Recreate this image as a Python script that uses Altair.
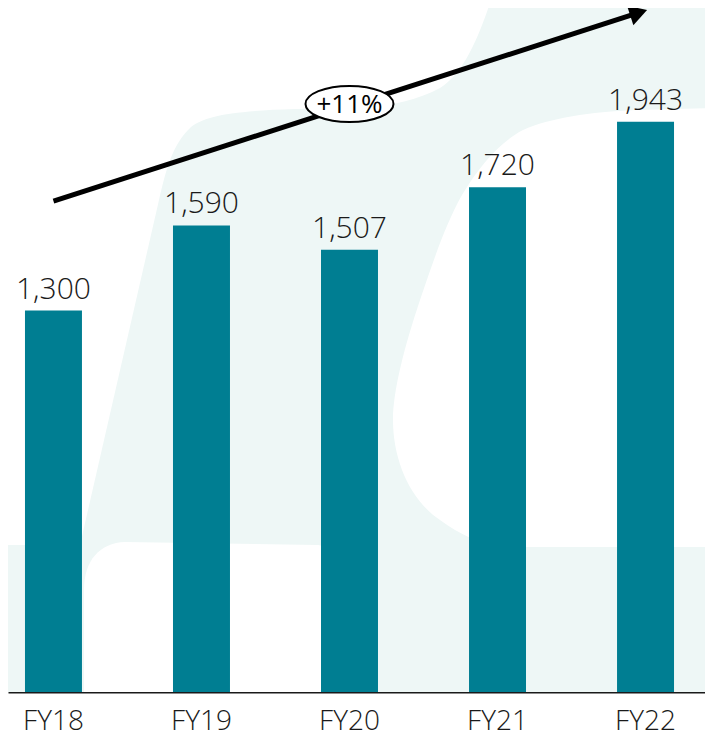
import altair as alt
import pandas as pd

years = ["FY18", "FY19", "FY20", "FY21", "FY22"]
values = [1300, 1590, 1507, 1720, 1943]
value_labels = ["1,300", "1,590", "1,507", "1,720", "1,943"]

# trend arrow annotation (category, value)
arrow_start = ["FY18", 1673]
arrow_end = ["FY22", 2321]
cagr_label = "+11%"
cagr_pos = ["FY20", 2004]

FONT = "Open Sans"
TEAL = "#007E92"
MINT = "#EEF7F6"

# decorative watermark shapes (page pixel paths, drawn from page origin)
BG_MINT = ("M0,545 L80,545 L159,200 C166,170 172,145 191,127 C205,116 230,111 295,109 "
           "L364,108 C390,106 420,99 440,88 C462,74 476,45 491,0 L720,0 L720,692 L0,692 Z")
BG_HOLE_R = ("M720,108 L636,110 C590,112 550,118 523,130 C500,142 480,165 462,195 "
             "C445,225 432,265 420,300 C405,345 393,390 393,420 C393,460 410,500 440,520 "
             "C460,535 480,543 500,547 L720,547 Z")
BG_HOLE_B = ("M84,692 L84,590 C84,560 100,543 125,542 L318,545 C325,546 330,550 330,560 "
             "L330,692 Z")

bars_df = pd.DataFrame({"year": years, "value": values, "label": value_labels})
arrow_df = pd.DataFrame({"x": [arrow_start[0]], "y": [arrow_start[1]],
                         "x2": [arrow_end[0]], "y2": [arrow_end[1]]})
head_df = pd.DataFrame({"x": [arrow_end[0]], "y": [arrow_end[1]]})
cagr_df = pd.DataFrame({"x": [cagr_pos[0]], "y": [cagr_pos[1]], "t": [cagr_label]})
one = pd.DataFrame({"k": [0]})

W, H = 697, 684
xs = alt.Scale(domain=years, paddingInner=0.615, paddingOuter=0.162, align=0.354)
ys = alt.Scale(domain=[0, 2331], nice=False, zero=True)


def bg(path, color):
    return alt.Chart(one).mark_point(shape=path, filled=True, fill=color, stroke=None,
                                     strokeWidth=0, opacity=1, size=4).encode(
        x=alt.value(-8), y=alt.value(-8))


base = alt.Chart(bars_df)

bars = base.mark_bar(color=TEAL).encode(
    x=alt.X("year:N", scale=xs, sort=years,
            axis=alt.Axis(title=None, domain=True, domainColor="#1a1a1a", domainWidth=2,
                          ticks=False, tickSize=0,
                          labelAngle=0, labelFont=FONT, labelFontSize=28,
                          labelFontWeight=300, labelColor="#1a1a1a",
                          labelBaseline="alphabetic", labelPadding=37, grid=False)),
    y=alt.Y("value:Q", scale=ys, axis=None),
)

labels = base.mark_text(font=FONT, fontSize=30, fontWeight=300, color="#1a1a1a",
                        baseline="alphabetic", dy=-12).encode(
    x=alt.X("year:N", scale=xs, sort=years),
    y=alt.Y("value:Q", scale=ys),
    text="label:N",
)

arrow = alt.Chart(arrow_df).mark_rule(color="black", strokeWidth=5,
                                      x2Offset=-9.7, y2Offset=2.7).encode(
    x=alt.X("x:N", scale=xs, sort=years),
    x2="x2:N",
    y=alt.Y("y:Q", scale=ys),
    y2="y2:Q",
)

head = alt.Chart(head_df).mark_point(shape="triangle", filled=True, color="black",
                                     opacity=1, size=420, angle=72,
                                     xOffset=-9.7, yOffset=2.7).encode(
    x=alt.X("x:N", scale=xs, sort=years),
    y=alt.Y("y:Q", scale=ys),
)

ellipse = alt.Chart(cagr_df).mark_point(
    shape="M-1,0 A1,0.41 0 1,0 1,0 A1,0.41 0 1,0 -1,0 Z",
    filled=False, fill="white", fillOpacity=1, stroke="black", strokeWidth=2,
    opacity=1, size=88 * 88,
).encode(
    x=alt.X("x:N", scale=xs, sort=years),
    y=alt.Y("y:Q", scale=ys),
)

cagr_text = alt.Chart(cagr_df).mark_text(font=FONT, fontSize=26, color="black",
                                          baseline="middle", dy=1).encode(
    x=alt.X("x:N", scale=xs, sort=years),
    y=alt.Y("y:Q", scale=ys),
    text="t:N",
)

chart = alt.layer(
    bg(BG_MINT, MINT), bg(BG_HOLE_R, "white"), bg(BG_HOLE_B, "white"),
    bars, labels, arrow, head, ellipse, cagr_text
).properties(
    width=W, height=H, background="white",
    padding={"left": 0, "top": 0, "right": 0, "bottom": 46},
    autosize=alt.AutoSizeParams(type="none"),
).configure_view(stroke=None)

chart.save("out.html", embed_options={"renderer": "svg", "actions": False})
